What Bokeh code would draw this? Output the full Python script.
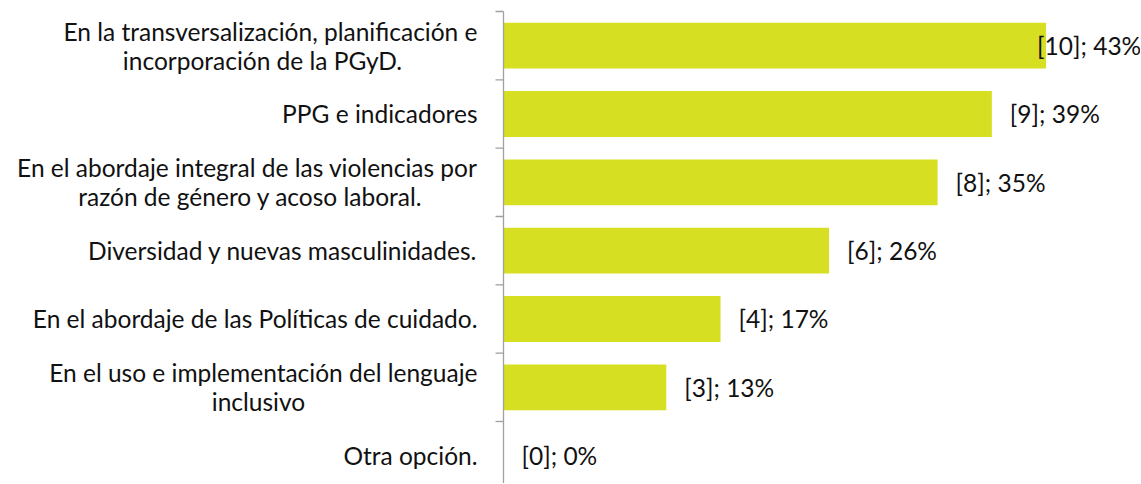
from bokeh.plotting import figure
from bokeh.models import Range1d, ColumnDataSource
from bokeh.core.properties import value
from bokeh.embed import file_html
from bokeh.resources import INLINE

# ---- data ----
categories = [
    "En la transversalización, planificación e\nincorporación de la PGyD.",
    "PPG e indicadores",
    "En el abordaje integral de las violencias por\nrazón de género y acoso laboral.",
    "Diversidad y nuevas masculinidades.",
    "En el abordaje de las Políticas de cuidado.",
    "En el uso e implementación del lenguaje\ninclusivo",
    "Otra opción.",
]
counts = [10, 9, 8, 6, 4, 3, 0]
percents = [43, 39, 35, 26, 17, 13, 0]

# ---- layout constants (pixels) ----
W, H = 1140, 483
PX_PER_UNIT = 54.26      # px per count
ZERO_X = 503             # zero position inside the figure
CAT_PX = 68.33           # px per category
TOP_PX = 11              # top boundary of first category inside the figure
FONT = "Lato"
FS = "24.5px"
TEXT_COLOR = "#111111"
BAR_COLOR = "#D7DF23"
AXIS_COLOR = "#A0A0A0"

n = len(categories)
x_start = -ZERO_X / PX_PER_UNIT
x_end = (W - ZERO_X) / PX_PER_UNIT
y_top = -TOP_PX / CAT_PX - 0.5
y_bottom = (H - TOP_PX) / CAT_PX - 0.5

p = figure(width=W, height=H, output_backend="svg", toolbar_location=None,
           x_range=Range1d(x_start, x_end), y_range=Range1d(y_bottom, y_top),
           min_border=0, min_border_left=0, min_border_right=0,
           min_border_top=0, min_border_bottom=0)
p.axis.visible = False
p.grid.visible = False
p.outline_line_color = None
p.background_fill_color = "white"
p.border_fill_color = "white"

idx = list(range(n))

# bars
src = ColumnDataSource(dict(y=idx, right=counts))
p.hbar(y="y", left=0, right="right", height=0.67, source=src,
       fill_color=BAR_COLOR, line_color=None)

# axis line and tick marks at category boundaries
p.segment(x0=[0], y0=[-0.5], x1=[0], y1=[y_bottom + 1], line_color=AXIS_COLOR, line_width=1.3)
bounds = [k - 0.5 for k in range(n + 1)]
tick_len = 8 / PX_PER_UNIT
p.segment(x0=[-tick_len] * len(bounds), y0=bounds, x1=[0] * len(bounds), y1=bounds,
          line_color=AXIS_COLOR, line_width=1.3)

# data labels
labels = [f"[{c}]; {pc}%" for c, pc in zip(counts, percents)]
offsets = []
for c in counts:
    offsets.append(18 if c < max(counts) else -9)
p.text(x=counts, y=idx, text=labels, x_offset=offsets,
       text_align="left", text_baseline="middle",
       text_font=value(FONT), text_font_size=FS, text_color=TEXT_COLOR)

# category labels
label_right = -26 / PX_PER_UNIT
line_gap = 14.5
# reference centres (px left of the axis) of the second lines
second_centre_px = {0: 504 - 263, 2: 504 - 251, 5: 504 - 259}
single_x, single_y, single_t = [], [], []
l1_x, l1_y, l1_t = [], [], []
l2_x, l2_y, l2_t = [], [], []
for i, cat in enumerate(categories):
    parts = cat.split("\n")
    if len(parts) == 1:
        single_x.append(label_right); single_y.append(i); single_t.append(cat)
    else:
        l1_x.append(label_right); l1_y.append(i - line_gap / CAT_PX); l1_t.append(parts[0])
        l2_x.append(-second_centre_px[i] / PX_PER_UNIT); l2_y.append(i + line_gap / CAT_PX); l2_t.append(parts[1])

common = dict(text_baseline="middle", text_font=value(FONT), text_font_size=FS, text_color=TEXT_COLOR)
p.text(x=single_x, y=single_y, text=single_t, text_align="right", **common)
p.text(x=l1_x, y=l1_y, text=l1_t, text_align="right", **common)
p.text(x=l2_x, y=l2_y, text=l2_t, text_align="center", **common)

open("out.html", "w").write(file_html(p, INLINE))
